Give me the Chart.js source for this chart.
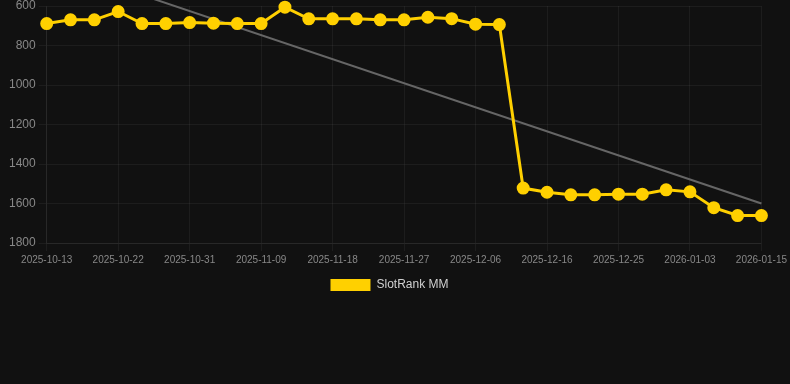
<!DOCTYPE html>
<html>
<head>
<meta charset="utf-8">
<script src="https://cdn.jsdelivr.net/npm/chart.js@4"></script>
<style>
  html, body { margin: 0; padding: 0; background: #111111; }
  #wrap { width: 790px; height: 301px; position: relative; }
</style>
</head>
<body>
<div id="wrap"><canvas id="c"></canvas></div>
<script>
const dates = [
  "2025-10-13","2025-10-16","2025-10-19","2025-10-22","2025-10-25","2025-10-28",
  "2025-10-31","2025-11-03","2025-11-06","2025-11-09","2025-11-12","2025-11-15",
  "2025-11-18","2025-11-21","2025-11-24","2025-11-27","2025-11-30","2025-12-03",
  "2025-12-06","2025-12-09","2025-12-13","2025-12-16","2025-12-19","2025-12-22",
  "2025-12-25","2025-12-28","2025-12-31","2026-01-03","2026-01-07","2026-01-11",
  "2026-01-15"
];
const rankMM = [
  689, 670, 670, 628, 689, 689, 684, 687, 689, 689,
  606, 665, 665, 665, 670, 670, 657, 664, 692, 694,
  1522, 1543, 1556, 1556, 1553, 1553, 1531, 1541, 1621, 1661,
  1661
];
const trendStart = 382;
const trendEnd = 1600;
const trend = dates.map((d, i) => i === 0 ? trendStart : (i === dates.length - 1 ? trendEnd : null));
const yTicks = [600, 800, 1000, 1200, 1400, 1600, 1800];

new Chart(document.getElementById('c'), {
  type: 'line',
  data: {
    labels: dates,
    datasets: [
      {
        label: 'SlotRank MM',
        data: rankMM,
        borderColor: '#FFD000',
        backgroundColor: '#FFD000',
        pointBackgroundColor: '#FFD000',
        pointBorderColor: '#FFD000',
        borderWidth: 3,
        pointRadius: 5,
        tension: 0,
        clip: false
      },
      {
        label: 'trend',
        data: trend,
        spanGaps: true,
        borderColor: '#666666',
        borderWidth: 2,
        pointRadius: 0,
        clip: false,
        tension: 0
      }
    ]
  },
  options: {
    responsive: true,
    maintainAspectRatio: false,
    animation: false,
    layout: { autoPadding: false, padding: { left: 6, right: 17 } },
    plugins: {
      legend: {
        position: 'bottom',
        labels: {
          color: '#d0d0d0',
          font: { size: 12 },
          filter: (item) => item.datasetIndex === 0,
          generateLabels: (chart) => {
            const items = Chart.defaults.plugins.legend.labels.generateLabels(chart);
            items.forEach(it => { it.lineWidth = 0; it.strokeStyle = 'rgba(0,0,0,0)'; });
            return items;
          }
        }
      },
      tooltip: { enabled: false }
    },
    scales: {
      x: {
        grid: { color: 'rgba(255,255,255,0.05)' },
        border: { color: 'rgba(255,255,255,0.05)' },
        ticks: {
          color: '#888888',
          font: { size: 10 },
          autoSkip: false,
          maxRotation: 0,
          callback: function(v, i) { return i % 3 === 0 ? dates[i] : null; }
        }
      },
      y: {
        reverse: true,
        min: yTicks[0],
        max: yTicks[yTicks.length - 1],
        grid: { color: 'rgba(255,255,255,0.05)' },
        border: { color: 'rgba(255,255,255,0.05)' },
        afterBuildTicks: (axis) => { axis.ticks = yTicks.map(v => ({ value: v })); },
        ticks: {
          color: '#888888',
          font: { size: 12, lineHeight: 0.5 },
          callback: (v) => String(v)
        }
      }
    }
  }
});
</script>
</body>
</html>
